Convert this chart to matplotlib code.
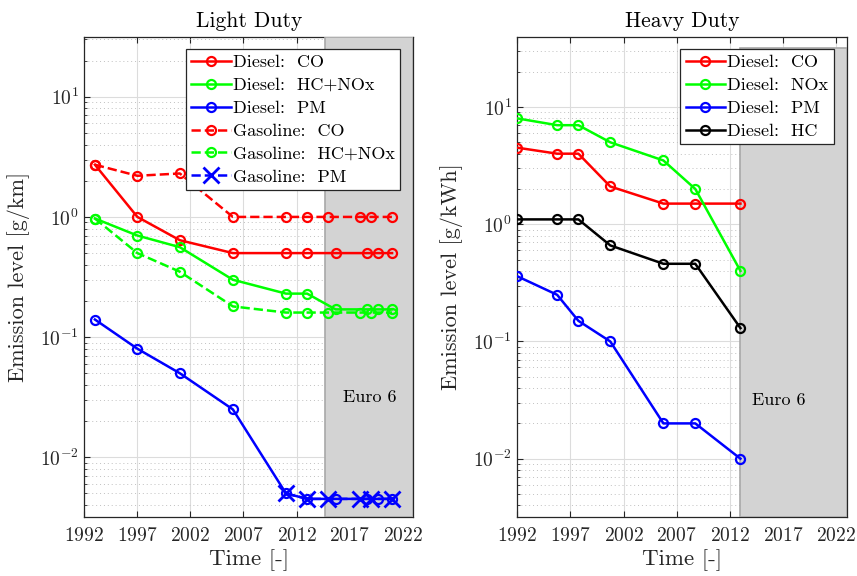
import numpy as np
import matplotlib
matplotlib.use("Agg")
import matplotlib.pyplot as plt
from matplotlib.patches import Rectangle
from matplotlib.ticker import LogLocator, NullFormatter, FixedLocator

plt.rcParams.update({
    "font.family": "serif", "font.serif": ["cmr10"], "mathtext.fontset": "cm",
    "axes.unicode_minus": False, "axes.formatter.use_mathtext": True,
})

# light duty (g/km)
ld_diesel_t = [1993, 1997, 2001, 2006, 2011, 2013, 2015.67, 2018.67, 2019.67, 2021]
ld_gasoline_t = [1993, 1997, 2001, 2006, 2011, 2013, 2015, 2018, 2019, 2021]
ld_diesel_co = [2.72, 1.0, 0.64, 0.5, 0.5, 0.5, 0.5, 0.5, 0.5, 0.5]
ld_diesel_hcnox = [0.97, 0.7, 0.56, 0.3, 0.23, 0.23, 0.17, 0.17, 0.17, 0.17]
ld_diesel_pm = [0.14, 0.08, 0.05, 0.025, 0.005, 0.0045, 0.0045, 0.0045, 0.0045, 0.0045]
ld_gasoline_co = [2.72, 2.2, 2.3, 1.0, 1.0, 1.0, 1.0, 1.0, 1.0, 1.0]
ld_gasoline_hcnox = [0.97, 0.5, 0.35, 0.18, 0.16, 0.16, 0.16, 0.16, 0.16, 0.16]
ld_gasoline_pm = [np.nan, np.nan, np.nan, np.nan, 0.005, 0.0045, 0.0045, 0.0045, 0.0045, 0.0045]
ld_euro6 = 2014.67

# heavy duty (g/kWh)
hd_t = [1992, 1995.75, 1997.75, 2000.75, 2005.75, 2008.75, 2013]
hd_co = [4.5, 4.0, 4.0, 2.1, 1.5, 1.5, 1.5]
hd_nox = [8.0, 7.0, 7.0, 5.0, 3.5, 2.0, 0.4]
hd_pm = [0.36, 0.25, 0.15, 0.10, 0.02, 0.02, 0.01]
hd_hc = [1.1, 1.1, 1.1, 0.66, 0.46, 0.46, 0.13]
hd_euro6 = 2013

years = [1992, 1997, 2002, 2007, 2012, 2017, 2022]
FS = 14
C_AX = (0.15, 0.15, 0.15)

fig = plt.figure(figsize=(8.57, 5.76), dpi=100)
axL = fig.add_axes([84.3 / 857, 1 - 517.3 / 576, 329 / 857, 480.6 / 576])
axR = fig.add_axes([517.3 / 857, 1 - 517.3 / 576, 329.4 / 857, 480.6 / 576])

kw = dict(lw=1.8, marker="o", ms=6.5, mew=1.6, mfc="none", zorder=3)


def style(ax, ytop, title, ylabel):
    ax.set_yscale("log")
    ax.set_xlim(1992, 2023)
    ax.set_ylim(10 ** -2.5, ytop)
    ax.set_xticks(years)
    ax.yaxis.set_major_locator(FixedLocator([1e-2, 1e-1, 1e0, 1e1]))
    ax.yaxis.set_minor_locator(LogLocator(base=10, subs=np.arange(2, 10), numticks=20))
    ax.yaxis.set_minor_formatter(NullFormatter())
    ax.tick_params(which="both", direction="in", top=True, right=True, colors=C_AX,
                   labelsize=FS, labelcolor=C_AX)
    ax.tick_params(which="major", length=4, width=0.8)
    ax.tick_params(which="minor", length=2, width=0.6)
    ax.tick_params(axis="x", pad=7)
    ax.tick_params(axis="y", pad=4)
    ax.grid(which="major", color="#dcdcdc", lw=0.8, ls="-")
    ax.grid(which="minor", axis="y", color="#c0c0c0", lw=0.7, ls=(0, (1, 3)))
    ax.set_axisbelow(True)
    for s in ax.spines.values():
        s.set_color(C_AX); s.set_linewidth(0.9)
    ax.set_title(title, fontsize=15.5, pad=7)
    ax.set_xlabel("Time [-]", fontsize=16.5, color=C_AX, labelpad=3)
    ax.set_ylabel(ylabel, fontsize=16, color=C_AX, labelpad=7)


def euro6(ax, x0, xtext):
    ax.add_patch(Rectangle((x0, 10 ** -2.5), 2023 - x0, 10 ** 1.5 - 10 ** -2.5,
                           facecolor="#d3d3d3", edgecolor="#a8a8a8", lw=1.2, zorder=2.6))
    ax.text(xtext, 10 ** -1.5, "Euro 6", fontsize=FS - 1, va="center", ha="left", zorder=4)


# light duty
euro6(axL, ld_euro6, 2016.4)
axL.plot(ld_diesel_t, ld_diesel_co, color="r", label="Diesel:  CO", **kw)
axL.plot(ld_diesel_t, ld_diesel_hcnox, color="#00ff00", label="Diesel:  HC+NOx", **kw)
axL.plot(ld_diesel_t, ld_diesel_pm, color="b", label="Diesel:  PM", **kw)
axL.plot(ld_gasoline_t, ld_gasoline_co, color="r", ls="--", label="Gasoline:  CO", **kw)
axL.plot(ld_gasoline_t, ld_gasoline_hcnox, color="#00ff00", ls="--", label="Gasoline:  HC+NOx", **kw)
axL.plot(ld_gasoline_t, ld_gasoline_pm, color="b", ls="--", lw=1.8, marker="x", ms=11, mew=2,
         label="Gasoline:  PM", zorder=3)
style(axL, 10 ** 1.5, "Light Duty", "Emission level [g/km]")

# heavy duty
euro6(axR, hd_euro6, 2014.07)
axR.plot(hd_t, hd_co, color="r", label="Diesel:  CO", **kw)
axR.plot(hd_t, hd_nox, color="#00ff00", label="Diesel:  NOx", **kw)
axR.plot(hd_t, hd_pm, color="b", label="Diesel:  PM", **kw)
axR.plot(hd_t, hd_hc, color="k", label="Diesel:  HC", **kw)
style(axR, 10 ** 1.6, "Heavy Duty", "Emission level [g/kWh]")

for ax in (axL, axR):
    leg = ax.legend(loc="upper right", bbox_to_anchor=(0.96, 0.974), borderaxespad=0,
                    fontsize=FS - 1, handlelength=2.2, handletextpad=0.1, labelspacing=0.4,
                    borderpad=0.3, fancybox=False, framealpha=1, edgecolor=C_AX)
    leg.get_frame().set_linewidth(0.9)
    leg.set_zorder(5)

fig.savefig("out.png", dpi=100)
